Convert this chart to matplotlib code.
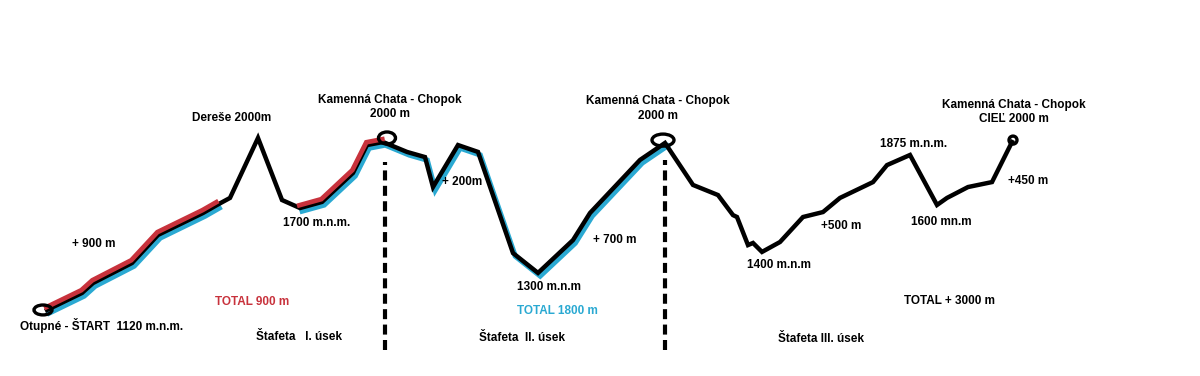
import matplotlib
matplotlib.use('Agg')
import matplotlib.pyplot as plt
from matplotlib.patches import Ellipse
import matplotlib.transforms as mtransforms

plt.rcParams['font.family'] = ['Liberation Sans', 'DejaVu Sans']

# profile: distance along the route (drawing units) and elevation (m)
dist = [47, 82, 93, 132, 158, 203, 217, 230, 258, 282, 300, 322, 353, 367, 383,
        407, 425, 433, 458, 478, 513, 538, 573, 590, 640, 665,
        693, 718, 733, 737, 748, 753, 762, 780, 803, 823, 840, 873, 887, 910,
        937, 947, 968, 992, 1012]
elev = [1120, 1209, 1261, 1366, 1513, 1628, 1670, 1707, 2021, 1696, 1654, 1686, 1838, 1984, 2000,
        1948, 1921, 1764, 1984, 1948, 1418, 1314, 1486, 1628, 1906, 1995,
        1775, 1722, 1617, 1607, 1460, 1471, 1424, 1476, 1607, 1633, 1707, 1790, 1879, 1932,
        1670, 1707, 1764, 1790, 2000]

# index ranges of the coloured parts (relay I red, relay II blue)
red_parts = [(0, 7), (10, 15)]
blue_parts = [(0, 7), (10, 26)]

# relay change points
relay_x = [385, 665]
relay_top = [1895, 1905]
relay_bottom = 910

# waypoints with rings (x, elev, width, height)
rings = [(43, 1120, 18, 52), (387, 2021, 17, 63), (663, 2010, 22, 63), (1013, 2010, 8, 42)]

labels = [
    ('Otupné - ŠTART  1120 m.n.m.', 102, 1041, 'black'),
    ('+ 900 m', 94, 1466, 'black'),
    ('TOTAL 900 m', 252, 1162, '#c8323c'),
    ('Štafeta   I. úsek', 299, 978, 'black'),
    ('1700 m.n.m.', 317, 1576, 'black'),
    ('Dereše 2000m', 232, 2126, 'black'),
    ('Kamenná Chata - Chopok\n2000 m', 390, 2183, 'black'),
    ('+ 200m', 462, 1790, 'black'),
    ('+ 700 m', 615, 1486, 'black'),
    ('1300 m.n.m', 549, 1240, 'black'),
    ('TOTAL 1800 m', 557, 1114, '#2aa9d2'),
    ('Štafeta  II. úsek', 522, 973, 'black'),
    ('Kamenná Chata - Chopok\n2000 m', 658, 2175, 'black'),
    ('1400 m.n.m', 779, 1355, 'black'),
    ('+500 m', 841, 1560, 'black'),
    ('1875 m.n.m.', 914, 1990, 'black'),
    ('1600 mn.m', 941, 1581, 'black'),
    ('+450 m', 1028, 1796, 'black'),
    ('Kamenná Chata - Chopok\nCIEĽ 2000 m', 1014, 2157, 'black'),
    ('TOTAL + 3000 m', 950, 1167, 'black'),
    ('Štafeta III. úsek', 821, 968, 'black'),
]

fig = plt.figure(figsize=(12, 3.76), dpi=100)
ax = fig.add_axes([0, 0, 1, 1])
ax.set_xlim(0, 1200)
ax.set_ylim(774, 2744)
ax.axis('off')

blue_shift = mtransforms.offset_copy(ax.transData, fig=fig, x=1.6, y=-2.2, units='points')
red_shift = mtransforms.offset_copy(ax.transData, fig=fig, x=-0.5, y=2.0, units='points')

for a, b in blue_parts:
    ax.plot(dist[a:b], elev[a:b], color='#2aa9d2', lw=3.8, transform=blue_shift,
            solid_joinstyle='miter', zorder=1)

ax.plot(dist, elev, color='black', lw=3.2, solid_joinstyle='miter', zorder=2)

for a, b in red_parts:
    ax.plot(dist[a:b], elev[a:b], color='#c8323c', lw=3.4, transform=red_shift,
            solid_joinstyle='miter', zorder=3)

for x, top in zip(relay_x, relay_top):
    ax.plot([x, x], [relay_bottom, top], color='black', lw=3, linestyle=(0, (2.4, 1.3)), zorder=2)

for x, y, w, h in rings:
    ax.add_patch(Ellipse((x, y), w, h, fill=False, edgecolor='black', lw=2.4, zorder=4))

for txt, x, y, c in labels:
    ax.text(x, y, txt, ha='center', va='center', color=c, fontsize=8.5,
            fontweight='bold', linespacing=1.25, zorder=5)

fig.savefig('out.png', dpi=100, facecolor='white')
